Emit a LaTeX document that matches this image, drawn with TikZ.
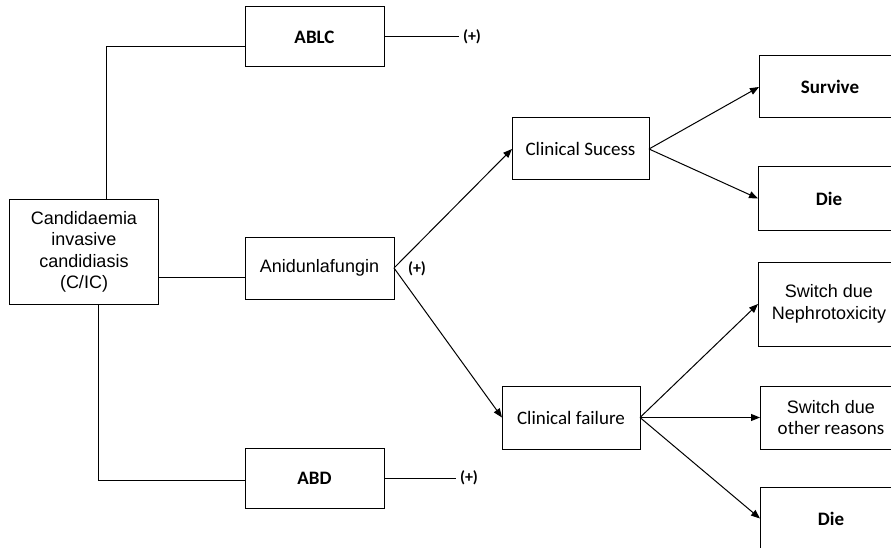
\documentclass[tikz,border=0pt]{standalone}
\usepackage{fontspec}
\setmainfont{Carlito}
\newfontfamily\arialfont{Liberation Sans}
\usetikzlibrary{arrows.meta, positioning, calc}

\tikzset{
  box/.style={draw, line width=1pt, align=center, inner sep=2pt, outer sep=0pt,
              font=\fontsize{19}{21.5}\selectfont},
  outcome/.style={box, anchor=west, minimum width=142},
  plus/.style={font=\bfseries\fontsize{16}{18}\selectfont, inner sep=4pt},
  link/.style={line width=1pt},
  branch/.style={line width=1pt, -{Triangle[length=9pt,width=7pt]}}
}

\begin{document}
\begin{tikzpicture}[x=1pt, y=-1pt]
  \useasboundingbox (0,0) rectangle (891,548);

  % Arbre de decision : traitement de la C/IC
  \node[box, minimum width=149, minimum height=105, font=\arialfont\fontsize{18}{21.5}\selectfont]
        (root) at (84,252) {Candidaemia\\invasive\\candidiasis\\(C/IC)};
  \node[box, minimum width=139, minimum height=60, font=\bfseries\fontsize{19}{21.5}\selectfont]
        (ablc) at (314.5,37) {ABLC};
  \node[box, minimum width=149, minimum height=62, font=\arialfont\fontsize{18}{21.5}\selectfont]
        (anid) at (319.5,268) {Anidunlafungin};
  \node[box, minimum width=139, minimum height=60, font=\bfseries\fontsize{19}{21.5}\selectfont]
        (abd) at (314.5,478) {ABD};

  \node[plus] (plusA) at (472,37) {(+)};
  \node[plus] (plusN) at (417,269) {(+)};
  \node[plus] (plusD) at (469,478) {(+)};

  \node[box, minimum width=137, minimum height=62] (succ) at (580.5,149) {Clinical Sucess};
  \node[box, minimum width=138, minimum height=63] (fail) at (571,417.5) {Clinical failure};

  % issues (coupees au bord droit)
  \node[outcome, minimum height=62, font=\bfseries\fontsize{19}{21.5}\selectfont] (surv) at (759,87) {Survive};
  \node[outcome, minimum height=63, font=\bfseries\fontsize{19}{21.5}\selectfont] (dieA) at (758,198.5) {Die};
  \node[outcome, minimum height=84, font=\arialfont\fontsize{18}{21.5}\selectfont] (nephro) at (758,304) {Switch due\\Nephrotoxicity};
  \node[outcome, minimum height=63] (other) at (760,417.5) {{\arialfont\fontsize{18}{21.5}\selectfont Switch due}\\other reasons};
  \node[outcome, minimum height=63, font=\bfseries\fontsize{19}{21.5}\selectfont] (dieB) at (760,518.5) {Die};

  % liaisons
  \draw[link] ([xshift=22pt]root.north) |- ([yshift=-10pt]ablc.west);
  \draw[link] ([xshift=14pt]root.south) |- ([yshift=-2pt]abd.west);
  \draw[link] ([yshift=-25pt]root.east) -- ([yshift=-25pt]root.east -| anid.west);
  \draw[link] (ablc.east) -- (plusA.west);
  \draw[link] (abd.east) -- (plusD.west);

  \draw[branch] (anid.east) -- (succ.west);
  \draw[branch] (anid.east) -- (fail.west);
  \draw[branch] (succ.east) -- (surv.west);
  \draw[branch] (succ.east) -- (dieA.west);
  \draw[branch] (fail.east) -- (nephro.west);
  \draw[branch] (fail.east) -- (other.west);
  \draw[branch] (fail.east) -- (dieB.west);
\end{tikzpicture}
\end{document}
